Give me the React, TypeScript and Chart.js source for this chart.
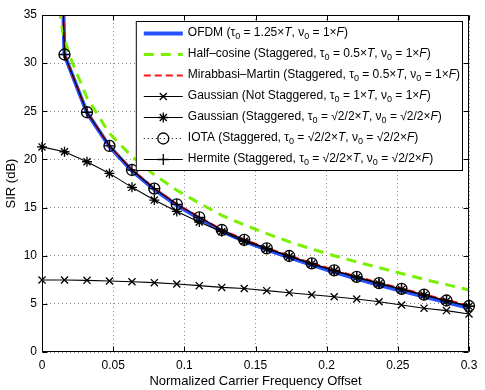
import React, { useEffect, useRef } from "react";
import { Chart, registerables } from "chart.js";

Chart.register(...registerables);

const FONT = "'Liberation Sans', Arial, Helvetica, sans-serif";

// Normalized carrier frequency offsets (20 samples, 0 .. 0.3)
const cfoOffsets = [
  0, 0.0158, 0.0316, 0.0474, 0.0632, 0.0789, 0.0947, 0.1105, 0.1263, 0.1421,
  0.1579, 0.1737, 0.1895, 0.2053, 0.2211, 0.2368, 0.2526, 0.2684, 0.2842, 0.3,
];
// SIR (dB); the value at zero offset is practically infinite (plotted off-scale)
const ofdmSIR = [
  120, 30.85, 24.85, 21.33, 18.82, 16.88, 15.24, 13.88, 12.55, 11.52,
  10.63, 9.82, 9.04, 8.31, 7.62, 6.96, 6.35, 5.75, 5.15, 4.58,
];
const halfCosineOffsets = [
  0.009, 0.0129, 0.0145, 0.0158, 0.0209, 0.0316, 0.0474, 0.0632, 0.0789, 0.0947,
  0.1105, 0.1263, 0.1421, 0.1579, 0.1737, 0.1895, 0.2053, 0.2211, 0.2368, 0.2526,
  0.2684, 0.2842, 0.3,
];
const halfCosineSIR = [
  48, 35, 33.3, 32.5, 30.2, 26.4, 22.7, 20.3, 18.4, 16.8,
  15.45, 14.2, 13.2, 12.3, 11.45, 10.7, 10.0, 9.35, 8.75, 8.15,
  7.55, 7.0, 6.44,
];
const mirabbasiSIR = [
  120, 30.9, 24.92, 21.42, 18.93, 17.0, 15.37, 14.02, 12.71, 11.69,
  10.82, 10.02, 9.25, 8.53, 7.85, 7.2, 6.6, 6.0, 5.41, 4.84,
];
const gaussianNotStaggeredSIR = [
  7.48, 7.48, 7.44, 7.37, 7.3, 7.2, 7.06, 6.89, 6.71, 6.6,
  6.37, 6.16, 5.95, 5.74, 5.5, 5.22, 4.88, 4.55, 4.3, 3.95,
];
const gaussianStaggeredSIR = [
  21.3, 20.8, 19.76, 18.55, 17.1, 15.78, 14.6, 13.5, 12.5, 11.5,
  10.72, 9.92, 9.15, 8.43, 7.75, 7.1, 6.5, 5.9, 5.3, 4.74,
];
const iotaSIR = [
  120, 30.9, 24.9, 21.4, 18.9, 16.97, 15.34, 13.99, 12.67, 11.65,
  10.77, 9.97, 9.2, 8.48, 7.8, 7.15, 6.55, 5.95, 5.35, 4.78,
];
const hermiteSIR = [
  120, 30.9, 24.9, 21.4, 18.9, 16.96, 15.33, 13.98, 12.66, 11.64,
  10.76, 9.96, 9.19, 8.47, 7.79, 7.14, 6.54, 5.94, 5.34, 4.77,
];

const xTicks = [0, 0.05, 0.1, 0.15, 0.2, 0.25, 0.3];
const yTicks = [0, 5, 10, 15, 20, 25, 30, 35];
const xTickLabels = ["0", "0.05", "0.1", "0.15", "0.2", "0.25", "0.3"];
const yTickLabels = ["0", "5", "10", "15", "20", "25", "30", "35"];

const xTitle = "Normalized Carrier Frequency Offset";
const yTitle = "SIR (dB)";

// "_x" = subscript character, "*...*" = italic
const legendLabels = [
  "OFDM (τ_0 = 1.25×*T*, ν_0 = 1×*F*)",
  "Half–cosine (Staggered, τ_0 = 0.5×*T*, ν_0 = 1×*F*)",
  "Mirabbasi–Martin (Staggered, τ_0 = 0.5×*T*, ν_0 = 1×*F*)",
  "Gaussian (Not Staggered, τ_0 = 1×*T*, ν_0 = 1×*F*)",
  "Gaussian (Staggered, τ_0 = √2/2×*T*, ν_0 = √2/2×*F*)",
  "IOTA (Staggered, τ_0 = √2/2×*T*, ν_0 = √2/2×*F*)",
  "Hermite (Staggered, τ_0 = √2/2×*T*, ν_0 = √2/2×*F*)",
];

const LEG_SIZE = 12;
const SUB_SIZE = 9;

function drawRich(ctx: CanvasRenderingContext2D, text: string, x: number, y: number, draw: boolean): number {
  let cx = x;
  let italic = false;
  let buf = "";
  const flush = () => {
    if (!buf) return;
    ctx.font = `${italic ? "italic " : ""}${LEG_SIZE}px ${FONT}`;
    if (draw) ctx.fillText(buf, cx, y);
    cx += ctx.measureText(buf).width;
    buf = "";
  };
  for (let i = 0; i < text.length; i++) {
    const ch = text[i];
    if (ch === "*") {
      flush();
      italic = !italic;
      continue;
    }
    if (ch === "_") {
      flush();
      const s = text[++i];
      ctx.font = `${SUB_SIZE}px ${FONT}`;
      if (draw) ctx.fillText(s, cx, y + 4);
      cx += ctx.measureText(s).width;
      continue;
    }
    buf += ch;
  }
  flush();
  return cx - x;
}

function drawMarker(ctx: CanvasRenderingContext2D, style: string, x: number, y: number, r: number) {
  const d = Math.cos(Math.PI / 4) * r;
  ctx.beginPath();
  if (style === "circle") {
    ctx.arc(x, y, r, 0, Math.PI * 2);
  }
  if (style === "cross" || style === "star") {
    ctx.moveTo(x - r, y);
    ctx.lineTo(x + r, y);
    ctx.moveTo(x, y - r);
    ctx.lineTo(x, y + r);
  }
  if (style === "crossRot" || style === "star") {
    ctx.moveTo(x - d, y - d);
    ctx.lineTo(x + d, y + d);
    ctx.moveTo(x - d, y + d);
    ctx.lineTo(x + d, y - d);
  }
  ctx.stroke();
}

const framePlugin = {
  id: "matlabFrame",
  afterDraw(chart: any) {
    const { ctx, chartArea: a, scales } = chart;
    ctx.save();
    // axes box
    const L = Math.round(a.left) + 0.5;
    const R = Math.round(a.right) - 0.5;
    const T = Math.round(a.top) + 0.5;
    const B = Math.round(a.bottom) - 0.5;
    ctx.strokeStyle = "#000";
    ctx.lineWidth = 1;
    ctx.setLineDash([]);
    ctx.beginPath();
    ctx.rect(L, T, R - L, B - T);
    // inward ticks
    const tl = 5;
    xTicks.forEach((v) => {
      const px = Math.round(scales.x.getPixelForValue(v)) + 0.5;
      ctx.moveTo(px, B);
      ctx.lineTo(px, B - tl);
      ctx.moveTo(px, T);
      ctx.lineTo(px, T + tl);
    });
    yTicks.forEach((v) => {
      const py = Math.round(scales.y.getPixelForValue(v)) + 0.5;
      ctx.moveTo(L, py);
      ctx.lineTo(L + tl, py);
      ctx.moveTo(R, py);
      ctx.lineTo(R - tl, py);
    });
    ctx.stroke();

    // legend
    const rowH = 21;
    let maxW = 0;
    legendLabels.forEach((t) => {
      maxW = Math.max(maxW, drawRich(ctx, t, 0, 0, false));
    });
    const right = Math.round(a.right) - 6;
    const top = Math.round(a.top) + 6;
    const left = right - (52 + maxW + 3);
    const height = 12 + rowH * (legendLabels.length - 1) + 12;
    ctx.fillStyle = "#fff";
    ctx.fillRect(left, top, right - left, height);
    ctx.strokeStyle = "#000";
    ctx.lineWidth = 1;
    ctx.strokeRect(left + 0.5, top + 0.5, right - left - 1, height - 1);

    chart.data.datasets.forEach((ds: any, i: number) => {
      const cy = top + 12 + i * rowH;
      const x0 = left + 8;
      const x1 = left + 47;
      ctx.strokeStyle = ds.borderColor;
      ctx.lineWidth = ds.borderWidth;
      ctx.setLineDash(ds.borderDash || []);
      ctx.beginPath();
      ctx.moveTo(x0, cy + 0.5);
      ctx.lineTo(x1, cy + 0.5);
      ctx.stroke();
      ctx.setLineDash([]);
      if (ds.pointRadius > 0) {
        ctx.strokeStyle = ds.pointBorderColor || "#000";
        ctx.lineWidth = ds.pointBorderWidth || 1;
        drawMarker(ctx, ds.pointStyle, (x0 + x1) / 2, cy + 0.5, ds.pointRadius);
      }
      ctx.fillStyle = "#000";
      ctx.textBaseline = "middle";
      ctx.textAlign = "left";
      drawRich(ctx, legendLabels[i], left + 52, cy, true);
    });
    ctx.restore();
  },
};

const pts = (xs: number[], ys: number[]) => xs.map((x, i) => ({ x, y: ys[i] }));

export default function App() {
  const ref = useRef<HTMLCanvasElement | null>(null);

  useEffect(() => {
    document.body.style.margin = "0";
    const canvas = ref.current;
    if (!canvas) return;
    const clip = { left: 10, top: 0, right: 10, bottom: 10 };
    const common = { fill: false, tension: 0, clip, pointHoverRadius: undefined as any };
    const chart = new Chart(canvas, {
      type: "line",
      data: {
        datasets: [
          {
            ...common,
            label: legendLabels[0],
            data: pts(cfoOffsets, ofdmSIR),
            borderColor: "#2650ff",
            borderWidth: 4,
            pointRadius: 0,
            order: 6,
          },
          {
            ...common,
            label: legendLabels[1],
            data: pts(halfCosineOffsets, halfCosineSIR),
            borderColor: "#78f000",
            borderWidth: 3,
            borderDash: [10, 7],
            pointRadius: 0,
            order: 5,
          },
          {
            ...common,
            label: legendLabels[2],
            data: pts(cfoOffsets, mirabbasiSIR),
            borderColor: "#ff1414",
            borderWidth: 2,
            borderDash: [7, 4],
            pointRadius: 0,
            order: 4,
          },
          {
            ...common,
            label: legendLabels[3],
            data: pts(cfoOffsets, gaussianNotStaggeredSIR),
            borderColor: "#000",
            borderWidth: 1.1,
            pointStyle: "crossRot",
            pointRadius: 5,
            pointBorderColor: "#000",
            pointBorderWidth: 1.3,
            order: 3,
          },
          {
            ...common,
            label: legendLabels[4],
            data: pts(cfoOffsets, gaussianStaggeredSIR),
            borderColor: "#000",
            borderWidth: 1.1,
            pointStyle: "star",
            pointRadius: 5,
            pointBorderColor: "#000",
            pointBorderWidth: 1.3,
            order: 2,
          },
          {
            ...common,
            label: legendLabels[5],
            data: pts(cfoOffsets, iotaSIR),
            borderColor: "#000",
            borderWidth: 1,
            borderDash: [1, 3],
            pointStyle: "circle",
            pointRadius: 5.5,
            pointBackgroundColor: "rgba(0,0,0,0)",
            pointBorderColor: "#000",
            pointBorderWidth: 1.3,
            order: 1,
          },
          {
            ...common,
            label: legendLabels[6],
            data: pts(cfoOffsets, hermiteSIR),
            borderColor: "#000",
            borderWidth: 1.1,
            pointStyle: "cross",
            pointRadius: 5.5,
            pointBorderColor: "#000",
            pointBorderWidth: 1.3,
            order: 0,
          },
        ] as any,
      },
      options: {
        animation: false,
        responsive: false,
        layout: { padding: { left: 0, right: 16, top: 15, bottom: 0 } },
        plugins: { legend: { display: false }, tooltip: { enabled: false } },
        events: [],
        scales: {
          x: {
            type: "linear",
            min: 0,
            max: 0.3,
            afterBuildTicks: (s: any) => {
              s.ticks = xTicks.map((v) => ({ value: v }));
            },
            afterFit: (s: any) => {
              s.height = 38;
            },
            ticks: {
              autoSkip: false,
              maxRotation: 0,
              padding: 6,
              color: "#000",
              font: { family: FONT, size: 12 },
              callback: (v: any) => xTickLabels[xTicks.indexOf(Number(v))] ?? String(v),
            },
            grid: { color: "rgba(0,0,0,0.45)", lineWidth: 1, drawTicks: false },
            border: { display: false, dash: [1, 3] },
            title: {
              display: true,
              text: xTitle,
              color: "#000",
              font: { family: FONT, size: 13 },
              padding: { top: 0, bottom: 1 },
            },
          },
          y: {
            type: "linear",
            min: 0,
            max: 35,
            afterBuildTicks: (s: any) => {
              s.ticks = yTicks.map((v) => ({ value: v }));
            },
            afterFit: (s: any) => {
              s.width = 42;
            },
            ticks: {
              autoSkip: false,
              padding: 5,
              color: "#000",
              font: { family: FONT, size: 12 },
              callback: (v: any) => yTickLabels[yTicks.indexOf(Number(v))] ?? String(v),
            },
            grid: { color: "rgba(0,0,0,0.45)", lineWidth: 1, drawTicks: false },
            border: { display: false, dash: [1, 3] },
            title: {
              display: true,
              text: yTitle,
              color: "#000",
              font: { family: FONT, size: 13 },
              padding: { top: 4, bottom: 0 },
            },
          },
        },
      } as any,
      plugins: [framePlugin],
    });
    return () => chart.destroy();
  }, []);

  return (
    <div style={{ width: 485, height: 390 }}>
      <canvas ref={ref} width={485} height={390} style={{ display: "block" }} />
    </div>
  );
}
